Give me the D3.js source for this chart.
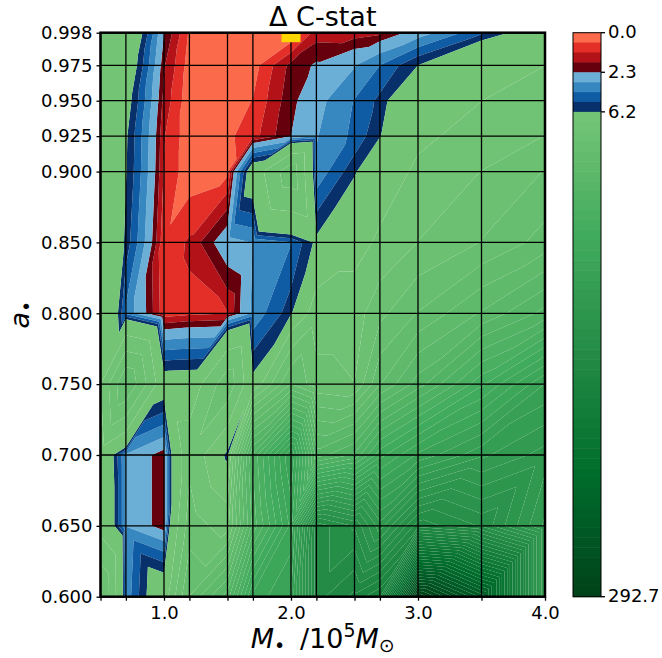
<!DOCTYPE html>
<html>
<head>
<meta charset="utf-8">
<script src="https://cdn.jsdelivr.net/npm/d3@7"></script>
<style>
  body { margin: 0; background: #fff; }
  text { font-family: "DejaVu Sans", sans-serif; fill: #000; }
</style>
</head>
<body>
<svg id="chart" width="662" height="658"></svg>
<script>
// Model grid: black hole mass (10^5 Msun) and spin
const masses = [0.5, 0.7, 1.0, 1.2, 1.5, 1.7, 2.0, 2.2, 2.5, 2.7, 3.0, 3.5, 4.0];
const spins  = [0.6, 0.65, 0.7, 0.75, 0.8, 0.85, 0.9, 0.925, 0.95, 0.975, 0.998];

// Delta C-stat on the grid, one row per spin (same order as masses)
const dcA0600 = [25, 3.6, 8.4, 30, 50, 90, 100, 150, 160, 170, 292.7, 250, 110];
const dcA0650 = [9.8, 3.2, 1.87, 20.6, 15.3, 55, 90, 150, 140, 120, 150, 140, 110];
const dcA0700 = [9.3, 3.2, 1.87, 16.3, 5.2, 60, 100, 50, 60, 80, 95, 110, 120];
const dcA0750 = [12, 30, 7.4, 7.5, 22, 6.7, 30, 20, 18, 35, 50, 75, 100];
const dcA0800 = [11, 4.0, 0.8, 1.0, 1.12, 3.5, 5.8, 15, 15, 22, 30, 42, 55];
const dcA0850 = [11, 5.8, 0.7, 1.25, 2.9, 3.3, 4.2, 6.5, 10, 13, 18, 24, 32];
const dcA0900 = [10, 6.3, 1.1, 0.2, 0.4, 8.0, 22, 3.5, 5.9, 9.0, 13, 18, 24];
const dcA0925 = [10, 6.4, 1.2, 0.2, 0.45, 0.9, 2.3, 3.2, 4.5, 6.1, 11, 14, 18];
const dcA0950 = [10, 7.0, 1.5, 0.2, 0.2, 0.6, 2.1, 2.9, 4.3, 5.5, 9.0, 12, 15];
const dcA0975 = [10, 8.0, 1.8, 0.3, 0.1, 0.3, 1.9, 2.4, 3.2, 4.25, 6.2, 10, 12];
const dcA0998 = [10, 9.2, 2.3, 0.5, 0.2, 0.1, 0.0, 1.45, 1.4, 1.6, 2.7, 5.0, 7.8];
const deltaC = [dcA0600, dcA0650, dcA0700, dcA0750, dcA0800, dcA0850,
                dcA0900, dcA0925, dcA0950, dcA0975, dcA0998];

// Contour levels
const redLevels  = [0.0, 0.575, 1.15, 1.725, 2.3];      // 1 sigma
const blueLevels = [2.3, 3.275, 4.25, 5.225, 6.2];      // 2 sigma
const greenRange = [6.2, 292.7];
const greenBandCount = 49;
const colorbarTicks = [0.0, 2.3, 6.2, 292.7];
const xLabelledTicks = [1.0, 2.0, 3.0, 4.0];
const bestFit = { mass: 2.0, spin: 0.998 };

// Cells triangulated along the "\" diagonal instead of "/", as [massIndex, spinIndex]
const backslashCells = [[1, 0], [2, 2], [3, 4], [6, 5]];

// ColorBrewer sequential ramps
const REDS   = ["#fff5f0","#fee0d2","#fcbba1","#fc9272","#fb6a4a","#ef3b2c","#cb181d","#a50f15","#67000d"];
const BLUES  = ["#f7fbff","#deebf7","#c6dbef","#9ecae1","#6baed6","#4292c6","#2171b5","#08519c","#08306b"];
const GREENS = ["#f7fcf5","#e5f5e0","#c7e9c0","#a1d99b","#74c476","#41ab5d","#238b45","#006d2c","#00441b"];
const reds = d3.piecewise(d3.interpolateRgb, REDS);
const blues = d3.piecewise(d3.interpolateRgb, BLUES);
const greens = d3.piecewise(d3.interpolateRgb, GREENS);

const greenLevels = d3.range(greenBandCount + 1)
  .map(k => greenRange[0] + k * (greenRange[1] - greenRange[0]) / greenBandCount);
const levels = redLevels.concat(blueLevels.slice(1), greenLevels.slice(1));
const nBands = levels.length - 1;
const bandColors = [];
for (let k = 0; k < redLevels.length - 1; k++) bandColors.push(reds(0.5 + 0.5 * k / (redLevels.length - 2)));
for (let k = 0; k < blueLevels.length - 1; k++) bandColors.push(blues(0.5 + 0.5 * k / (blueLevels.length - 2)));
for (let k = 0; k < greenBandCount; k++) bandColors.push(greens(0.5 + 0.5 * k / (greenBandCount - 1)));

const svg = d3.select("#chart");
const plot = { left: 100.5, right: 545, top: 32.7, bottom: 596.7 };
const x = d3.scaleLinear().domain(d3.extent(masses)).range([plot.left, plot.right]);
const y = d3.scaleLinear().domain(d3.extent(spins)).range([plot.bottom, plot.top]);

// Sutherland-Hodgman clip of a polygon of [mass, spin, value] against f(p) >= 0
function clip(poly, f) {
  const out = [];
  for (let k = 0; k < poly.length; k++) {
    const p = poly[k], q = poly[(k + 1) % poly.length];
    const fp = f(p), fq = f(q);
    if (fp >= 0) out.push(p);
    if ((fp >= 0) !== (fq >= 0)) {
      const t = fp / (fp - fq);
      out.push([p[0] + t * (q[0] - p[0]), p[1] + t * (q[1] - p[1]), p[2] + t * (q[2] - p[2])]);
    }
  }
  return out;
}

// Filled contour bands from the triangulated grid, one path per band
const bandPaths = d3.range(nBands).map(() => d3.path());
const isBackslash = (i, j) => backslashCells.some(c => c[0] === i && c[1] === j);
for (let j = 0; j < spins.length - 1; j++) {
  for (let i = 0; i < masses.length - 1; i++) {
    const p00 = [masses[i], spins[j], deltaC[j][i]];
    const p10 = [masses[i + 1], spins[j], deltaC[j][i + 1]];
    const p11 = [masses[i + 1], spins[j + 1], deltaC[j + 1][i + 1]];
    const p01 = [masses[i], spins[j + 1], deltaC[j + 1][i]];
    const tris = isBackslash(i, j) ? [[p00, p10, p01], [p10, p11, p01]]
                                   : [[p00, p10, p11], [p00, p11, p01]];
    for (const tri of tris) {
      const vmin = d3.min(tri, p => p[2]), vmax = d3.max(tri, p => p[2]);
      for (let b = 0; b < nBands; b++) {
        const lo = levels[b], hi = levels[b + 1];
        if (vmax < lo || vmin > hi) continue;
        let poly = clip(tri, p => p[2] - lo);
        if (poly.length < 3) continue;
        poly = clip(poly, p => hi - p[2]);
        if (poly.length < 3) continue;
        const ctx = bandPaths[b];
        ctx.moveTo(x(poly[0][0]), y(poly[0][1]));
        for (let k = 1; k < poly.length; k++) ctx.lineTo(x(poly[k][0]), y(poly[k][1]));
        ctx.closePath();
      }
    }
  }
}

svg.append("defs").append("clipPath").attr("id", "plot-clip")
  .append("rect")
  .attr("x", plot.left).attr("y", plot.top)
  .attr("width", plot.right - plot.left).attr("height", plot.bottom - plot.top);

const gBands = svg.append("g").attr("clip-path", "url(#plot-clip)");
gBands.selectAll("path.band")
  .data(d3.range(nBands))
  .join("path")
  .attr("class", "band")
  .attr("d", b => bandPaths[b].toString())
  .attr("fill", b => bandColors[b]);

// Grid lines at every model point
const gGrid = svg.append("g").attr("stroke", "#000").attr("stroke-width", 1.3);
gGrid.selectAll("line.vx").data(masses).join("line")
  .attr("x1", d => x(d)).attr("x2", d => x(d))
  .attr("y1", plot.top).attr("y2", plot.bottom);
gGrid.selectAll("line.hy").data(spins).join("line")
  .attr("x1", plot.left).attr("x2", plot.right)
  .attr("y1", d => y(d)).attr("y2", d => y(d));

// Best-fit marker
svg.append("g").attr("clip-path", "url(#plot-clip)")
  .append("rect")
  .attr("x", x(bestFit.mass) - 9.5).attr("y", y(bestFit.spin) - 9.5)
  .attr("width", 19).attr("height", 19)
  .attr("fill", "#ffd700");

// Axes
const xAxis = d3.axisBottom(x).tickValues(masses).tickSize(4).tickPadding(6)
  .tickFormat(d => xLabelledTicks.includes(d) ? d3.format(".1f")(d) : "");
const yAxis = d3.axisLeft(y).tickValues(spins).tickSize(4).tickPadding(4)
  .tickFormat(d3.format(".3f"));

const gx = svg.append("g").attr("transform", `translate(0,${plot.bottom})`).call(xAxis);
const gy = svg.append("g").attr("transform", `translate(${plot.left},0)`).call(yAxis);
for (const g of [gx, gy]) {
  g.select(".domain").remove();
  g.selectAll(".tick line").attr("stroke", "#000").attr("stroke-width", 1.3);
  g.selectAll(".tick text").attr("font-size", 18).attr("font-family", "DejaVu Sans").attr("fill", "#000");
}

// Frame
svg.append("rect")
  .attr("x", plot.left).attr("y", plot.top)
  .attr("width", plot.right - plot.left).attr("height", plot.bottom - plot.top)
  .attr("fill", "none").attr("stroke", "#000").attr("stroke-width", 2.5);

// Title and axis labels
svg.append("text").attr("x", (plot.left + plot.right) / 2).attr("y", 26)
  .attr("text-anchor", "middle").attr("font-size", 27).text("Δ C-stat");

const xl = svg.append("text").attr("x", (plot.left + plot.right) / 2).attr("y", 648)
  .attr("text-anchor", "middle").attr("font-size", 27);
xl.append("tspan").attr("font-style", "italic").text("M");
xl.append("tspan").attr("font-size", 19).attr("dy", 4).text("•");
xl.append("tspan").attr("dy", -4).attr("dx", 6).text(" /10");
xl.append("tspan").attr("font-size", 19).attr("dy", -11).text("5");
xl.append("tspan").attr("font-style", "italic").attr("dy", 11).text("M");
xl.append("tspan").attr("font-size", 19).attr("dy", 4).text("⊙");

const yl = svg.append("text")
  .attr("transform", `translate(29,${(plot.top + plot.bottom) / 2}) rotate(-90)`)
  .attr("text-anchor", "middle").attr("font-size", 27);
yl.append("tspan").attr("font-style", "italic").text("a");
yl.append("tspan").attr("font-size", 19).attr("dy", 4).text("•");

// Colour bar with evenly spaced bands
const cb = { left: 573, right: 601, top: plot.top, bottom: plot.bottom };
const cbY = d3.scaleLinear().domain([0, nBands]).range([cb.top, cb.bottom]);
const gcb = svg.append("g");
gcb.selectAll("rect.cb").data(d3.range(nBands)).join("rect")
  .attr("x", cb.left).attr("width", cb.right - cb.left)
  .attr("y", b => cbY(b)).attr("height", b => cbY(b + 1) - cbY(b) + 0.5)
  .attr("fill", b => bandColors[b]);
gcb.append("rect")
  .attr("x", cb.left).attr("y", cb.top)
  .attr("width", cb.right - cb.left).attr("height", cb.bottom - cb.top)
  .attr("fill", "none").attr("stroke", "#000").attr("stroke-width", 1);
const cbTicks = gcb.selectAll("g.cbt").data(colorbarTicks).join("g")
  .attr("transform", v => `translate(${cb.right},${cbY(levels.indexOf(v))})`);
cbTicks.append("line").attr("x2", 4).attr("stroke", "#000").attr("stroke-width", 1.3);
cbTicks.append("text").attr("x", 7).attr("dy", "0.32em").attr("font-size", 18)
  .text(v => d3.format(".1f")(v));
</script>
</body>
</html>
